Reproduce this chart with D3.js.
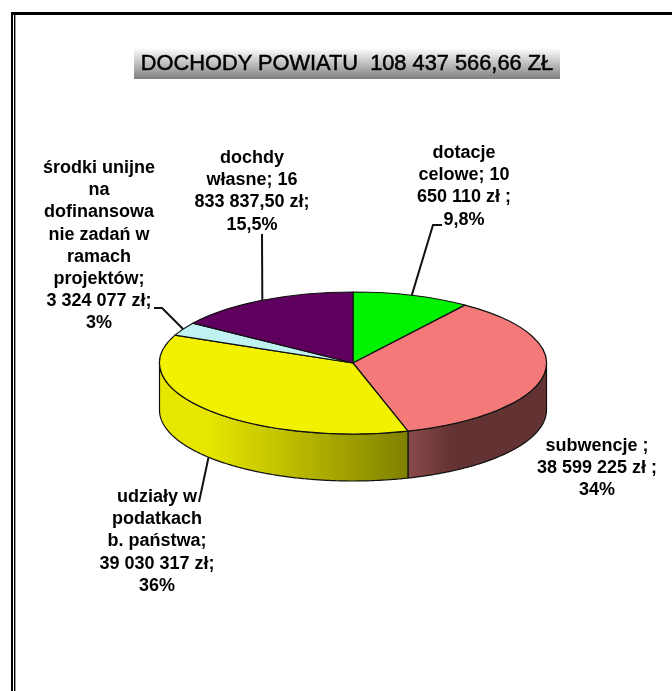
<!DOCTYPE html>
<html>
<head>
<meta charset="utf-8">
<script src="https://cdn.jsdelivr.net/npm/d3@7"></script>
<style>
  body { margin: 0; background: #fff; }
  svg { display: block; }
</style>
</head>
<body>
<div id="chart"></div>
<script>
// values, order is clockwise from 12 o'clock
const categories = ["dotacje celowe", "subwencje", "udziały w podatkach b. państwa", "środki unijne", "dochody własne"];
const amounts = [10650110, 38599225, 39030317, 3324077, 16833837.5];
const topColors = ["#00f200", "#f47a7a", "#f2f200", "#c0f2f2", "#5f005f"];
const labelLines = [
  ["dotacje", "celowe; 10", "650 110 zł ;", "9,8%"],
  ["subwencje ;", "38 599 225 zł ;", "34%"],
  ["udziały w", "podatkach", "b. państwa;", "39 030 317 zł;", "36%"],
  ["środki unijne", "na", "dofinansowa", "nie zadań w", "ramach", "projektów;", "3 324 077 zł;", "3%"],
  ["dochdy", "własne; 16", "833 837,50 zł;", "15,5%"]
];
const titleText = "DOCHODY POWIATU  108 437 566,66 ZŁ";

// layout
const width = 672;
const height = 691;
const cx = 353;
const cy = 363;
const rx = 193.5;
const ry = 71;
const depth = 47;
const lineHeight = 22.2;

// label centre x, first baseline, and the elbow of the leader line (null = no leader)
const labelPos = [
  { x: 464, y: 158, leader: [[442, 225], [433, 225]] },
  { x: 597, y: 451, leader: null },
  { x: 157, y: 502, leader: [[199, 502]] },
  { x: 99, y: 173, leader: [[154, 308], [162, 308]] },
  { x: 252, y: 163, leader: [[262, 234]] }
];

const svg = d3
  .select("#chart")
  .append("svg")
  .attr("width", width)
  .attr("height", height);

const defs = svg.append("defs");

// the source is a low-res scan, a tiny blur gets the same soft look
defs
  .append("filter")
  .attr("id", "soft")
  .append("feGaussianBlur")
  .attr("stdDeviation", 0.45);

function addGradient(id, x1, x2, stops) {
  const g = defs
    .append("linearGradient")
    .attr("id", id)
    .attr("gradientUnits", "userSpaceOnUse")
    .attr("x1", x1)
    .attr("x2", x2)
    .attr("y1", 0)
    .attr("y2", 0);
  stops.forEach((s) =>
    g.append("stop").attr("offset", s[0]).attr("stop-color", s[1])
  );
  return "url(#" + id + ")";
}

const sideFills = [
  "#006000",
  addGradient("sidePink", 408, 547, [[0, "#8a4a4a"], [0.32, "#633232"], [1, "#633232"]]),
  addGradient("sideYellow", 160, 408, [[0, "#e6e600"], [0.2, "#e6e600"], [1, "#808000"]]),
  "#5f8080",
  "#300030"
];

// frame
const frame = svg.append("g").attr("fill", "#000");
frame.append("rect").attr("x", 11).attr("y", 12).attr("width", width - 11).attr("height", 3);
frame.append("rect").attr("x", 11).attr("y", 12).attr("width", 2).attr("height", height - 12);
frame.append("rect").attr("x", 14).attr("y", 12).attr("width", 1.4).attr("height", height - 12);

// title band
const titleFill = addGradient("titleBand", 0, 0, [[0, "#ffffff"], [1, "#808080"]]);
d3.select("#titleBand").attr("y1", 48).attr("y2", 79);
svg
  .append("rect")
  .attr("x", 134)
  .attr("y", 48)
  .attr("width", 426)
  .attr("height", 31)
  .attr("fill", titleFill);
svg
  .append("text")
  .attr("x", 347)
  .attr("y", 70)
  .attr("text-anchor", "middle")
  .attr("xml:space", "preserve")
  .style("white-space", "pre")
  .style("font-family", "'Liberation Sans', Arial, sans-serif")
  .style("font-size", "21.8px")
  .style("fill", "#000")
  .attr("stroke", "#000")
  .attr("stroke-width", 0.5)
  .attr("filter", "url(#soft)")
  .text(titleText);

// pie
const pie = d3.pie().sort(null).value((d) => d);
const slices = pie(amounts);

const rimX = d3.scaleLinear().domain([-1, 1]).range([cx - rx, cx + rx]);
const rimY = d3.scaleLinear().domain([-1, 1]).range([cy - ry, cy + ry]);
const rim = (a) => [rimX(Math.sin(a)), rimY(-Math.cos(a))];

const wall = svg.append("g").attr("class", "walls");
const outline = d3.line();

slices.forEach((s, i) => {
  // only the front half of the disc has a visible side
  const a0 = Math.max(s.startAngle, Math.PI / 2);
  const a1 = Math.min(s.endAngle, (3 * Math.PI) / 2);
  if (a1 <= a0) return;
  const top = d3.range(a0, a1, 0.01).concat(a1).map(rim);
  const bottom = top.map((p) => [p[0], p[1] + depth]).reverse();
  wall
    .append("path")
    .attr("d", outline(top.concat(bottom)) + "Z")
    .attr("fill", sideFills[i])
    .attr("stroke", "#111")
    .attr("stroke-width", 1.2)
    .attr("stroke-linejoin", "round");
});

const arc = d3.arc().innerRadius(0).outerRadius(rx);

svg
  .append("g")
  .attr("transform", "translate(" + cx + "," + cy + ") scale(1," + ry / rx + ")")
  .selectAll("path")
  .data(slices)
  .join("path")
  .attr("d", arc)
  .attr("fill", (d, i) => topColors[i])
  .attr("stroke", "#111")
  .attr("stroke-width", 1.2)
  .attr("vector-effect", "non-scaling-stroke")
  .attr("stroke-linejoin", "round");

// leader lines run from the middle of the slice's rim to the elbow
const leaders = svg.append("g").attr("fill", "none").attr("stroke", "#111").attr("stroke-width", 2);
slices.forEach((s, i) => {
  const pos = labelPos[i];
  if (!pos.leader) return;
  const mid = (s.startAngle + s.endAngle) / 2;
  const p = rim(mid);
  const front = mid > Math.PI / 2 && mid < (3 * Math.PI) / 2;
  const end = [p[0], p[1] + (front ? depth : 0)];
  leaders.append("path").attr("d", outline(pos.leader.concat([end])));
});

// labels
const labels = svg
  .append("g")
  .attr("text-anchor", "middle")
  .attr("filter", "url(#soft)")
  .style("font-family", "'Liberation Sans', Arial, sans-serif")
  .style("font-size", "18px")
  .style("font-weight", "bold")
  .style("fill", "#000");

labelLines.forEach((lines, i) => {
  const t = labels.append("text").attr("class", "label-" + i).datum(categories[i]);
  lines.forEach((line, j) => {
    t.append("tspan")
      .attr("x", labelPos[i].x)
      .attr("y", labelPos[i].y + j * lineHeight)
      .text(line);
  });
});
</script>
</body>
</html>
